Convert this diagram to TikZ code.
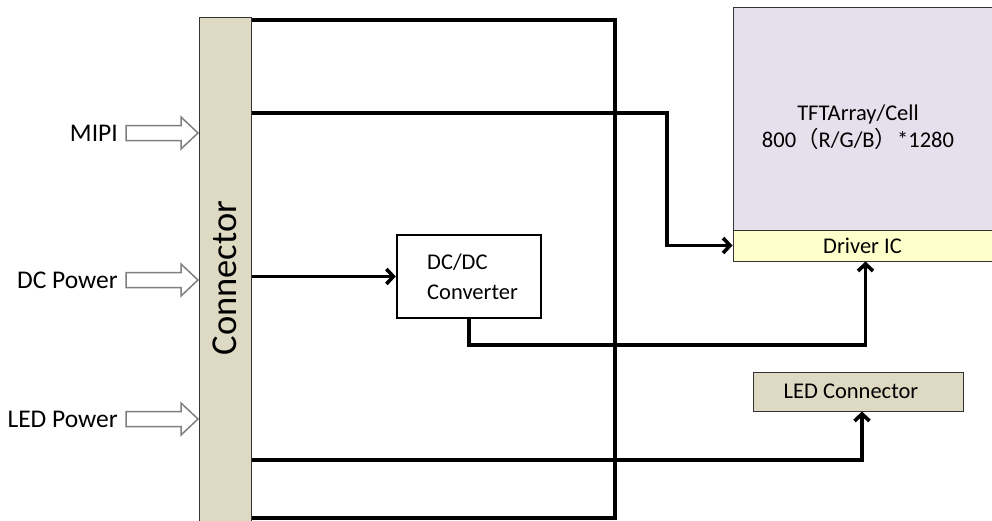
\documentclass[tikz,border=0pt]{standalone}
\usepackage{fontspec}
\setmainfont{Carlito}
\newfontfamily\cjk{Noto Sans CJK SC}
\usetikzlibrary{arrows.meta}
\definecolor{tan}{HTML}{DDD9C3}
\definecolor{lav}{HTML}{E5E0EC}
\definecolor{drvy}{HTML}{FFFFCC}
\definecolor{bgray}{HTML}{7F7F7F}
\begin{document}
\begin{tikzpicture}[x=1pt,y=-1pt,
  wire/.style={line width=3.6pt},
  tipped/.style={wire,-{Straight Barb[length=7pt,width=15pt]}},
  lbl/.style={font=\fontsize{25.5}{28}\selectfont,anchor=east,inner sep=0pt},
  boxtxt/.style={font=\fontsize{22.5}{28}\selectfont,inner sep=0pt},
  blockarrow/.style={draw=bgray,fill=white,line width=1.5pt,line join=miter}]
\useasboundingbox (0,0) rectangle (992,520);
\fill[white] (0,0) rectangle (992,520);

% connector bar
\node[draw=black!80,fill=tan,line width=1pt,minimum width=52pt,minimum height=510pt,inner sep=0pt] (conn) at (225,272) {};
\node[rotate=90,font=\fontsize{36.5}{40}\selectfont,inner sep=0pt] (conntxt) at (225,278) {Connector};

% frame
\coordinate (tr) at (615,20);
\coordinate (br) at (615,518);
\draw[wire,line join=miter] (conn.east|-tr) -- (tr) -- (br) -- (conn.east|-br);

% TFT panel
\node[draw=black!80,fill=lav,line width=1pt,minimum width=265pt,minimum height=223pt,inner sep=0pt] (tft) at (865.5,118.5) {};
\node[boxtxt,align=center] (tfttxt) at (858,127) {TFTArray/Cell\\[-1pt]800{\cjk （}R/G/B{\cjk ）}*1280};
\node[draw=black!80,fill=drvy,line width=1pt,minimum width=265pt,minimum height=31pt,inner sep=0pt,font=\fontsize{22.5}{26}\selectfont] (drv) at (865.5,245.5) {\hspace{-6pt}Driver IC};

% DC/DC converter
\node[draw,line width=2.4pt,minimum width=144pt,minimum height=83pt,inner sep=0pt] (dcdc) at (469,276.5) {};
\node[boxtxt,align=left,anchor=west] (dcdctxt) at (427,277) {DC/DC\\[2pt]Converter};

% LED connector
\node[draw=black!80,fill=tan,line width=1pt,minimum width=210pt,minimum height=39pt,inner sep=0pt,font=\fontsize{22.5}{26}\selectfont] (ledc) at (858,391.5) {\hspace{-14pt}LED Connector};

% wires
\coordinate (mipiy) at (667,113);
\draw[tipped,line join=miter] (conn.east|-mipiy) -- (mipiy) |- (drv.west);
\draw[tipped] (conn.east|-dcdc.west) -- (dcdc.west);
\coordinate (dcy) at (469,345);
\draw[tipped,line join=miter] (dcdc.south) -- (dcy) -| (drv.south);
\coordinate (ledy) at (862,460);
\draw[tipped,line join=miter] (conn.east|-ledy) -- (ledy) -- (ledc.south-|ledy);

% input labels and block arrows
\foreach \nm/\txt/\yy in {mipi/MIPI/133, dcp/DC Power/280, ledp/LED Power/419}{
  \coordinate (\nm tip) at (198,\yy);
  \draw[blockarrow] ([xshift=-72pt,yshift=-7.5pt]\nm tip) -- ([xshift=-17pt,yshift=-7.5pt]\nm tip)
     -- ([xshift=-17pt,yshift=-16pt]\nm tip) -- (\nm tip) -- ([xshift=-17pt,yshift=16pt]\nm tip)
     -- ([xshift=-17pt,yshift=7.5pt]\nm tip) -- ([xshift=-72pt,yshift=7.5pt]\nm tip) -- cycle;
  \node[lbl] (\nm) at (118,\yy) {\txt};
}
\end{tikzpicture}
\end{document}
